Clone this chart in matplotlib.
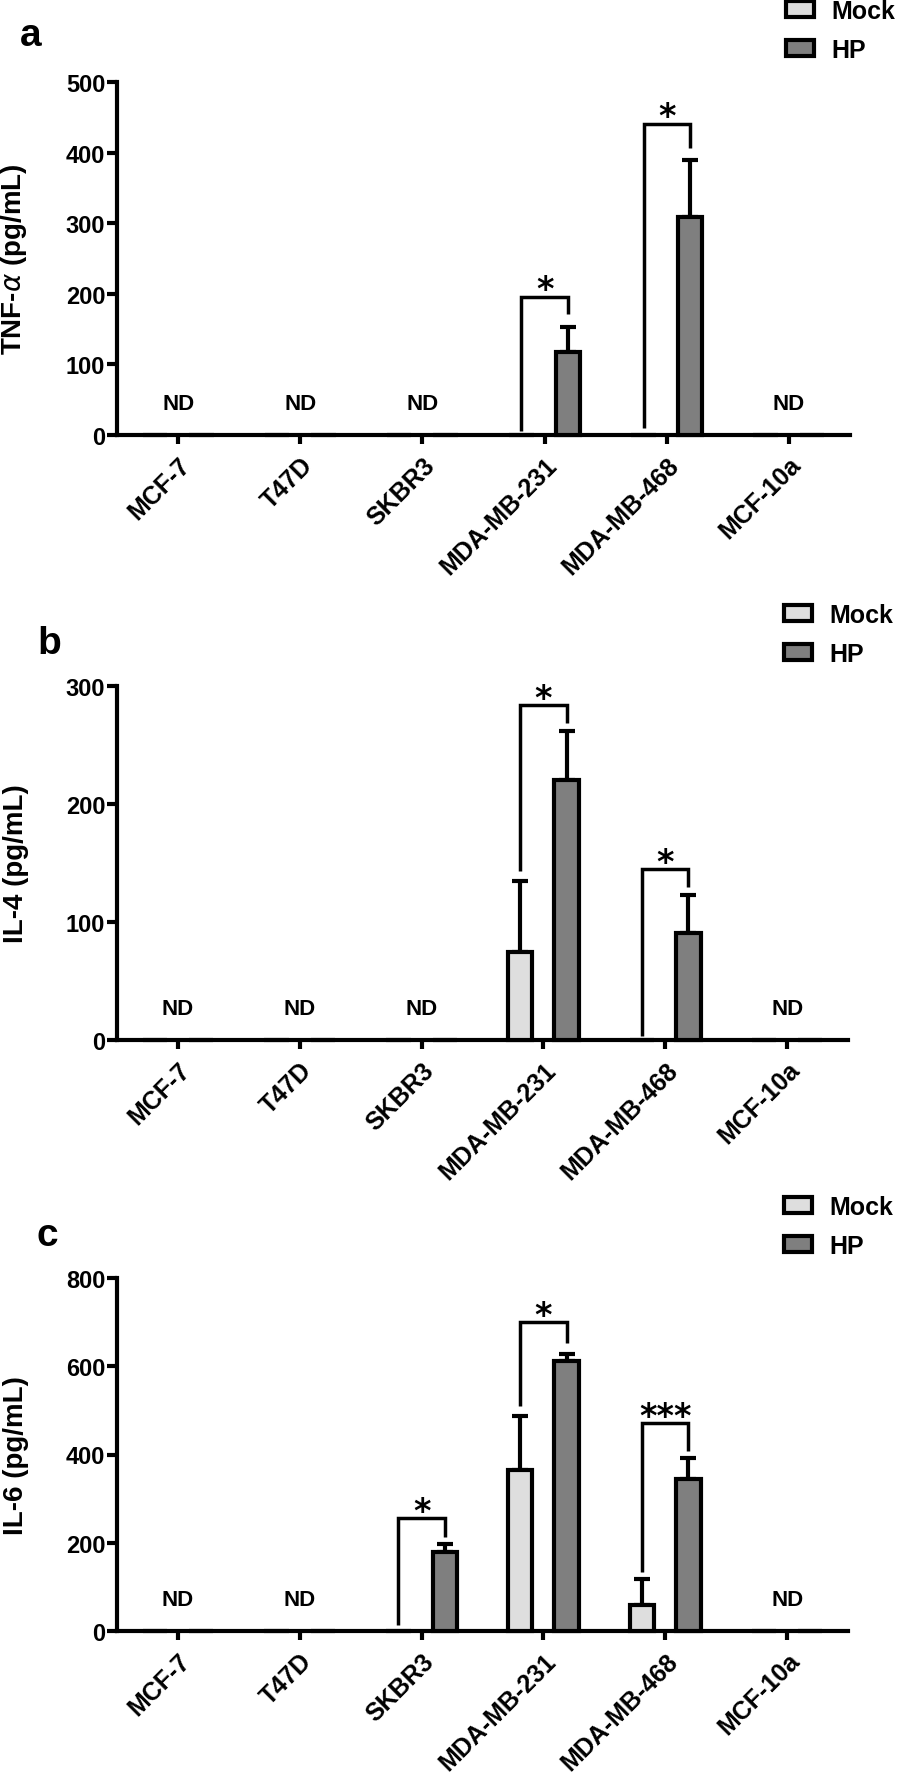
import matplotlib
matplotlib.use('Agg')
import matplotlib.pyplot as plt
import numpy as np

cell_lines = ['MCF-7', 'T47D', 'SKBR3', 'MDA-MB-231', 'MDA-MB-468', 'MCF-10a']

# TNF-alpha (pg/mL)
tnf_mock = [0, 0, 0, 0, 0, 0]
tnf_mock_err = [0, 0, 0, 0, 0, 0]
tnf_hp = [0, 0, 0, 118, 309, 0]
tnf_hp_err = [0, 0, 0, 35, 81, 0]
tnf_nd = [1, 1, 1, 0, 0, 1]
# (category, left foot, top, right foot, label)
tnf_sig = [(3, 5, 196, 172, '*'), (4, 10, 441, 406, '*')]

# IL-4 (pg/mL)
il4_mock = [0, 0, 0, 74.5, 0, 0]
il4_mock_err = [0, 0, 0, 60, 0, 0]
il4_hp = [0, 0, 0, 220, 91, 0]
il4_hp_err = [0, 0, 0, 42, 32, 0]
il4_nd = [1, 1, 1, 0, 0, 1]
il4_sig = [(3, 143, 284, 269, '*'), (4, 3, 145, 130, '*')]

# IL-6 (pg/mL)
il6_mock = [0, 0, 0, 365, 59, 0]
il6_mock_err = [0, 0, 0, 123, 59, 0]
il6_hp = [0, 0, 179, 611, 345, 0]
il6_hp_err = [0, 0, 19, 17, 47, 0]
il6_nd = [1, 1, 0, 0, 0, 1]
il6_sig = [(2, 13, 256, 213, '*'), (3, 510, 700, 653, '*'), (4, 134, 472, 407, '***')]

panels = [
    ('a', 'TNF-$\\alpha$ (pg/mL)', 500, 100, tnf_mock, tnf_mock_err, tnf_hp, tnf_hp_err, tnf_nd, tnf_sig),
    ('b', 'IL-4 (pg/mL)', 300, 100, il4_mock, il4_mock_err, il4_hp, il4_hp_err, il4_nd, il4_sig),
    ('c', 'IL-6 (pg/mL)', 800, 200, il6_mock, il6_mock_err, il6_hp, il6_hp_err, il6_nd, il6_sig),
]

MOCK_COLOR = '#dedede'
HP_COLOR = '#7f7f7f'
SANS = ['Liberation Sans', 'DejaVu Sans']

W, H = 898, 1774
fig = plt.figure(figsize=(W / 100, H / 100), dpi=100)

# axes boxes in pixels: (left, top, right, bottom)
boxes = [(117, 83, 850, 436), (117, 687, 848, 1041), (117, 1279, 848, 1632)]
letter_pos = [(20, 46), (37, 654), (37, 1246)]

x = np.arange(len(cell_lines))
off = 0.19
bw = 0.2

for (letter, ylabel, ymax, step, mock, mock_err, hp, hp_err, nd, sig), box, lp in zip(panels, boxes, letter_pos):
    l, t, r, b = box
    ax = fig.add_axes([l / W, 1 - b / H, (r - l) / W, (b - t) / H])

    mock = np.array(mock, float)
    hp = np.array(hp, float)
    mock_err = np.array(mock_err, float)
    hp_err = np.array(hp_err, float)

    # error bars (upper only)
    for xs, vals, errs in [(x - off, mock, mock_err), (x + off, hp, hp_err)]:
        m = errs > 0
        ax.errorbar(xs[m], vals[m], yerr=[np.zeros(m.sum()), errs[m]], fmt='none',
                    ecolor='black', elinewidth=3, capsize=6, capthick=3, zorder=2)

    bm = ax.bar(x - off, mock, bw, color=MOCK_COLOR, edgecolor='black', linewidth=3,
                zorder=3, clip_on=False, label='Mock')
    bh = ax.bar(x + off, hp, bw, color=HP_COLOR, edgecolor='black', linewidth=3,
                zorder=3, clip_on=False, label='HP')

    # ND labels
    for i, flag in enumerate(nd):
        if flag:
            ax.text(x[i], ymax * 0.088, 'ND', ha='center', va='center',
                    fontsize=16, fontweight='bold', family=SANS)

    # significance brackets
    for ci, lf, top, rf, lab in sig:
        x0, x1 = x[ci] - off, x[ci] + off
        ax.plot([x0, x0, x1, x1], [lf, top, top, rf], color='black', lw=2.5,
                solid_capstyle='butt', solid_joinstyle='miter', zorder=4)
        ax.annotate(lab, ((x0 + x1) / 2, top), xytext=(0, -2), textcoords='offset points',
                    ha='center', va='baseline', fontsize=24, fontweight='bold',
                    family='DejaVu Sans')

    ax.set_xlim(-0.5, len(cell_lines) - 0.5)
    ax.set_ylim(0, ymax)
    ax.set_yticks(np.arange(0, ymax + 1, step))
    ax.set_xticks(x)
    ax.set_xticklabels(cell_lines, rotation=45, ha='right', va='top',
                       rotation_mode='anchor', fontsize=18, fontweight='bold',
                       family=SANS)
    for lbl in ax.get_yticklabels():
        lbl.set_fontsize(17)
        lbl.set_fontweight('bold')
        lbl.set_family(SANS)

    for s in ['top', 'right']:
        ax.spines[s].set_visible(False)
    for s in ['left', 'bottom']:
        ax.spines[s].set_linewidth(3)
    ax.tick_params(axis='y', direction='out', length=7.5, width=3, pad=1)
    ax.tick_params(axis='x', direction='out', length=6.5, width=3, pad=6)

    ax.set_ylabel(ylabel, fontsize=20, fontweight='bold', family=SANS)
    ax.yaxis.set_label_coords(-0.12, 0.5)

    ax.legend(handles=[bm, bh], labels=['Mock', 'HP'], loc='upper left',
              bbox_to_anchor=(0.913, 1.235), frameon=False, borderpad=0,
              borderaxespad=0, handlelength=1.1, handleheight=0.6,
              handletextpad=0.7, labelspacing=0.6,
              prop=dict(weight='bold', size=18, family=SANS))

    fig.text(lp[0] / W, 1 - lp[1] / H, letter, fontsize=28, fontweight='bold',
             family=SANS, ha='left', va='baseline')

fig.savefig('out.png', dpi=100)
